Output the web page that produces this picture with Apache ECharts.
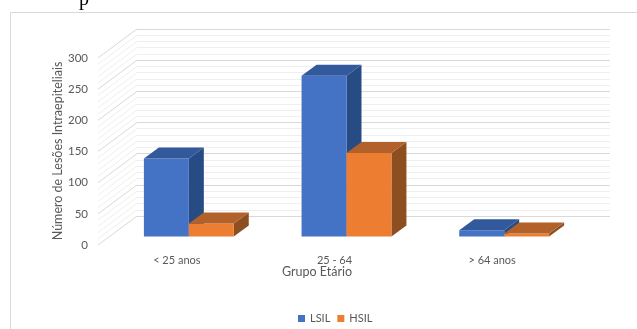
<!DOCTYPE html>
<html>
<head>
<meta charset="utf-8">
<script src="https://cdn.jsdelivr.net/npm/echarts@6/dist/echarts.min.js"></script>
<style>html,body{margin:0;padding:0;background:#fff}#c{width:637px;height:329px}</style>
</head>
<body>
<div id="c"></div>
<script>
const categories = ['< 25 anos', '25 - 64', '> 64 anos'];
const lsil = [125, 258, 10];
const hsil = [21, 134, 5];
const seriesNames = ['LSIL', 'HSIL'];
const yMin = 0, yMax = 300, yStep = 50, yMinorStep = 10;

const FONT = 'Lato';
const TXT = '#595959';
// 3D geometry (pixels)
const WALL_DX = 39, WALL_DY = -29;   // depth of the back wall
const BAR_SX = 12, BAR_SY = -8.5;    // depth position of bars
const BAR_DX = 15, BAR_DY = -11;     // bar depth
const colors = {
  LSIL: {front: '#4472C4', top: '#31599C', side: '#264C83'},
  HSIL: {front: '#ED7D31', top: '#B2612B', side: '#8D4E20'}
};

const chart = echarts.init(document.getElementById('c'));

function barRender(seriesIdx, name) {
  return function (params, api) {
    const cat = api.value(0), val = api.value(1);
    const top = api.coord([cat, val]);
    const base = api.coord([cat, 0]);
    const bw = api.size([1, 0])[0] * 0.285;
    const x0 = top[0] + BAR_SX + (seriesIdx === 0 ? -bw : 0);
    const yt = top[1] + BAR_SY, yb = base[1] + BAR_SY;
    const c = colors[name];
    return {
      type: 'group',
      children: [
        {type: 'polygon', shape: {points: [[x0 + bw, yt], [x0 + bw + BAR_DX, yt + BAR_DY], [x0 + bw + BAR_DX, yb + BAR_DY], [x0 + bw, yb]]}, style: {fill: c.side}},
        {type: 'rect', shape: {x: x0, y: yt, width: bw, height: yb - yt}, style: {fill: c.front}},
        {type: 'polygon', shape: {points: [[x0, yt], [x0 + bw, yt], [x0 + bw + BAR_DX, yt + BAR_DY], [x0 + BAR_DX, yt + BAR_DY]]}, style: {fill: c.top}}
      ]
    };
  };
}

function wallRender(params, api) {
  const cs = params.coordSys;
  const children = [];
  for (let v = yMin; v <= yMax; v += yMinorStep) {
    const y = api.coord([0, v])[1];
    const major = v % yStep === 0;
    children.push({
      type: 'line',
      shape: {x1: cs.x, y1: y, x2: cs.x + WALL_DX, y2: y + WALL_DY},
      style: {stroke: major ? '#d9d9d9' : '#efefef', lineWidth: 1}
    });
  }
  return {type: 'group', children: children};
}

const option = {
  backgroundColor: '#ffffff',
  animation: false,
  textStyle: {fontFamily: FONT},
  grid: [
    {left: 98, right: 66, top: 58, bottom: 84},
    {left: 137, right: 27, top: 29, bottom: 113}
  ],
  xAxis: [
    {type: 'category', data: categories, gridIndex: 0,
     axisLine: {show: false}, axisTick: {show: false},
     axisLabel: {color: TXT, fontSize: 11, margin: 10, fontFamily: FONT},
     splitLine: {show: false}},
    {type: 'category', data: categories, gridIndex: 1, show: false}
  ],
  yAxis: [
    {type: 'value', gridIndex: 0, min: yMin, max: yMax, interval: yStep,
     axisLine: {show: false}, axisTick: {show: false},
     axisLabel: {color: TXT, fontSize: 11.5, margin: 10, fontFamily: FONT},
     splitLine: {show: false}},
    {type: 'value', gridIndex: 1, min: yMin, max: yMax, interval: yStep,
     axisLine: {show: false}, axisTick: {show: false}, axisLabel: {show: false},
     splitLine: {show: true, lineStyle: {color: '#d9d9d9', width: 1}},
     minorTick: {show: false, splitNumber: yStep / yMinorStep},
     minorSplitLine: {show: true, lineStyle: {color: '#efefef', width: 1}}}
  ],
  legend: {
    bottom: 5, left: 298, padding: 0, itemWidth: 7, itemHeight: 7, itemGap: 7,
    icon: 'rect',
    textStyle: {color: TXT, fontSize: 11, fontFamily: FONT},
    data: seriesNames
  },
  series: [
    {type: 'custom', name: 'walls', xAxisIndex: 0, yAxisIndex: 0, data: [[0, 0]],
     renderItem: wallRender, silent: true, z: 1},
    {type: 'custom', name: 'LSIL', xAxisIndex: 0, yAxisIndex: 0,
     itemStyle: {color: colors.LSIL.front},
     data: lsil.map((v, i) => [i, v]), renderItem: barRender(0, 'LSIL'), z: 3},
    {type: 'custom', name: 'HSIL', xAxisIndex: 0, yAxisIndex: 0,
     itemStyle: {color: colors.HSIL.front},
     data: hsil.map((v, i) => [i, v]), renderItem: barRender(1, 'HSIL'), z: 4}
  ],
  graphic: [
    {type: 'rect', left: 8, top: 10, silent: true,
     shape: {x: 0.5, y: 0.5, width: 640, height: 330},
     style: {fill: 'none', stroke: '#d9d9d9', lineWidth: 1}},
    {type: 'text', x: 58, y: 151, rotation: Math.PI / 2,
     style: {text: 'Número de Lesões Intraepiteliais', fill: TXT, fontSize: 12.5, fontFamily: FONT, align: 'center', verticalAlign: 'middle'}},
    {type: 'text', x: 317, y: 272,
     style: {text: 'Grupo Etário', fill: TXT, fontSize: 12.5, fontFamily: FONT, align: 'center', verticalAlign: 'middle'}},
    {type: 'text', x: 84, y: -10,
     style: {text: 'p', fill: '#000', fontSize: 20, fontFamily: 'Liberation Serif', align: 'center', verticalAlign: 'top'}}
  ]
};
chart.setOption(option);
</script>
</body>
</html>
